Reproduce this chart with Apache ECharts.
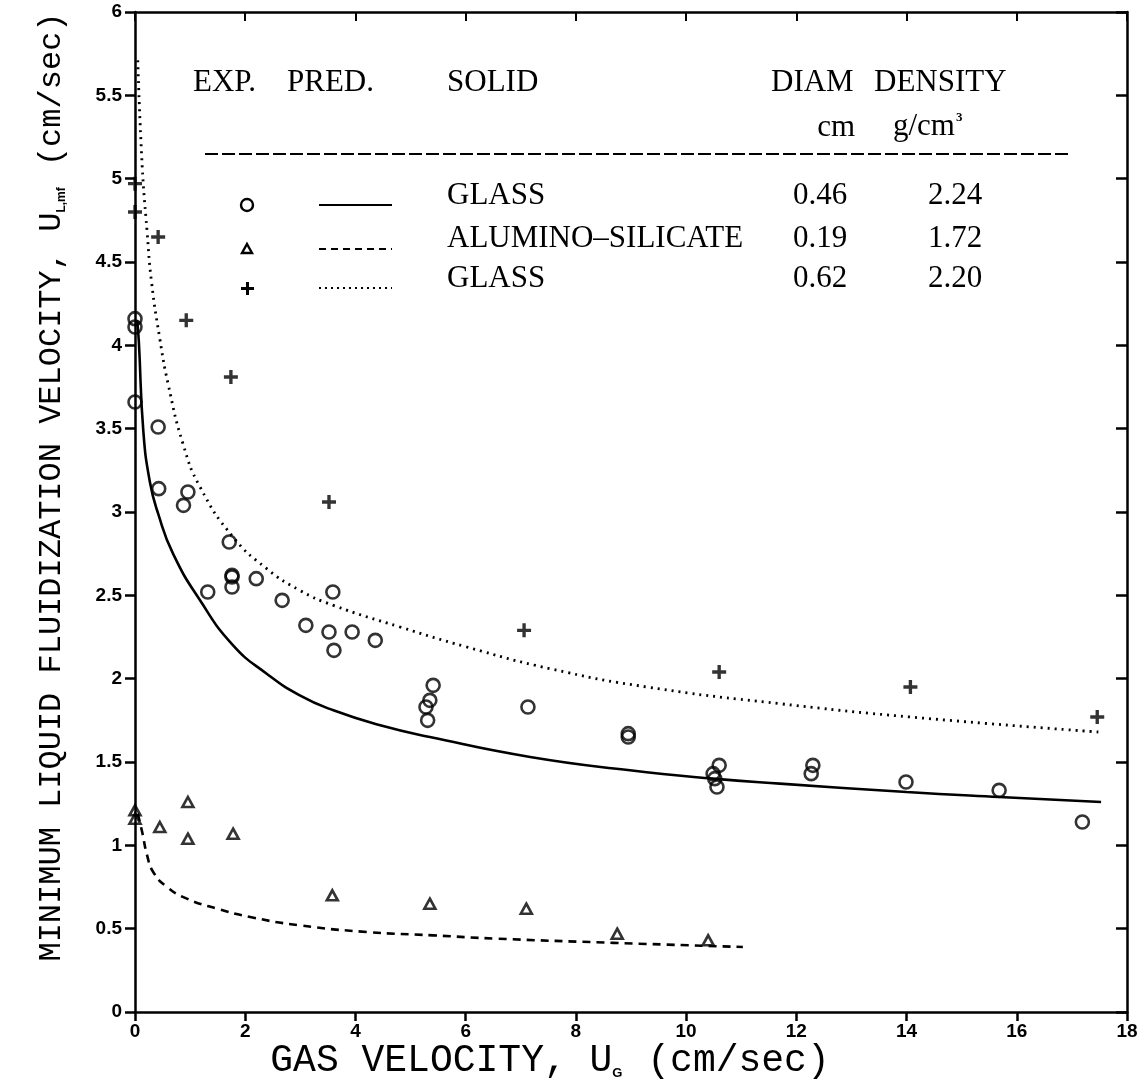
<!DOCTYPE html>
<html>
<head>
<meta charset="utf-8">
<title>Minimum liquid fluidization velocity</title>
<script src="https://cdn.jsdelivr.net/npm/echarts@6/dist/echarts.min.js"></script>
<style>
  html, body { margin: 0; padding: 0; background: #fff; }
  #chart { width: 1142px; height: 1087px; }
</style>
</head>
<body>
<div id="chart"></div>
<script>
(function() {
  var myChart = echarts.init(document.getElementById("chart"));

  // x axis ticks
  var xTicks = [0, 2, 4, 6, 8, 10, 12, 14, 16, 18];

  // experimental points, glass 0.46 cm (circles)
  var glassAX = [0, 0, 0, 0.42, 0.43, 0.96, 0.88, 1.71, 1.76, 1.76, 1.76, 1.32, 2.2, 2.67, 3.1, 3.52, 3.59, 3.61, 3.94, 4.36,
    5.41, 5.35, 5.28, 5.31, 7.13, 8.95, 8.95, 10.6, 10.49, 10.52, 10.56, 12.3, 12.27, 13.99, 15.68, 17.19];
  var glassAY = [4.16, 4.11, 3.66, 3.51, 3.14, 3.12, 3.04, 2.82, 2.62, 2.61, 2.55, 2.52, 2.6, 2.47, 2.32, 2.28, 2.52, 2.17, 2.28, 2.23,
    1.96, 1.87, 1.83, 1.75, 1.83, 1.67, 1.65, 1.48, 1.43, 1.4, 1.35, 1.48, 1.43, 1.38, 1.33, 1.14];

  // experimental points, alumino-silicate 0.19 cm (triangles)
  var aluX = [0, 0, 0.45, 0.96, 0.96, 1.78, 3.58, 5.35, 7.1, 8.75, 10.4];
  var aluY = [1.21, 1.16, 1.11, 1.26, 1.04, 1.07, 0.7, 0.65, 0.62, 0.47, 0.43];

  // experimental points, glass 0.62 cm (crosses)
  var glassBX = [0, 0, 0.42, 0.93, 1.74, 3.52, 7.06, 10.6, 14.07, 17.46];
  var glassBY = [4.97, 4.8, 4.65, 4.15, 3.81, 3.06, 2.29, 2.04, 1.95, 1.77];

  // predicted curves
  var predAX = [0.04, 0.07, 0.15, 0.27, 0.42, 0.69, 1.18, 1.78, 2.39, 2.99, 3.6, 4.45, 5.35, 7.17, 8.98, 10.49, 11.7, 14.0, 15.68, 17.53];
  var predAY = [4.15, 4.02, 3.49, 3.18, 2.99, 2.75, 2.47, 2.2, 2.03, 1.9, 1.81, 1.72, 1.65, 1.53, 1.45, 1.4, 1.37, 1.32, 1.29, 1.26];

  var predAluX = [0.05, 0.13, 0.22, 0.33, 0.58, 0.94, 1.49, 2.09, 2.99, 4.21, 5.41, 6.57, 8.68, 11.03];
  var predAluY = [1.19, 1.08, 0.94, 0.84, 0.75, 0.68, 0.62, 0.57, 0.52, 0.48, 0.46, 0.44, 0.415, 0.39];

  var predBX = [0.05, 0.13, 0.22, 0.3, 0.45, 0.6, 0.87, 1.18, 1.78, 2.39, 2.99, 3.6, 4.81, 6.02, 7.53, 9.29, 11.7, 14.07, 17.48];
  var predBY = [5.71, 5.08, 4.68, 4.38, 4.04, 3.77, 3.41, 3.15, 2.85, 2.66, 2.53, 2.44, 2.31, 2.19, 2.06, 1.95, 1.85, 1.77, 1.68];

  // legend table
  var tableHead = ["EXP.", "PRED.", "SOLID", "DIAM", "DENSITY"];
  var solids = ["GLASS", "ALUMINO\u2013SILICATE", "GLASS"];
  var diams = ["0.46", "0.19", "0.62"];
  var densities = ["2.24", "1.72", "2.20"];

  function pairs(xs, ys) {
    var out = [];
    for (var i = 0; i < xs.length; i++) out.push([xs[i], ys[i]]);
    return out;
  }

  var serif = "Liberation Serif";
  var mono = "Liberation Mono";
  var tableFont = "31px '" + serif + "'";
  var crossPath = "path://M3.8,0H6.2V3.8H10V6.2H6.2V10H3.8V6.2H0V3.8H3.8Z";

  var axisLine = { show: true, onZero: false, lineStyle: { color: "#000", width: 2.5 } };

  var graphics = [];
  var headX = [193, 287, 447, 771, 874];
  tableHead.forEach(function(t, i) {
    graphics.push({ type: "text", x: headX[i], y: 83,
      style: { text: t, font: tableFont, fill: "#000", verticalAlign: "middle" } });
  });
  graphics.push({ type: "text", x: 855, y: 128,
    style: { text: "cm", font: tableFont, fill: "#000", align: "right", verticalAlign: "middle" } });
  graphics.push({ type: "text", x: 893, y: 127,
    style: { text: "g/cm{sup|3}", font: tableFont, fill: "#000", verticalAlign: "middle",
      rich: { sup: { font: "bold 13px '" + serif + "'", verticalAlign: "top", padding: [0, 0, 14, 1] } } } });
  graphics.push({ type: "line", shape: { x1: 205, y1: 154, x2: 1072, y2: 154 },
    style: { stroke: "#000", lineWidth: 2, lineDash: [13, 4] } });

  var rowY = [196, 239, 279];
  var glyphY = [205, 249, 288];
  var lineDashes = [null, [7, 5], [2, 4]];
  for (var r = 0; r < 3; r++) {
    graphics.push({ type: "text", x: 447, y: rowY[r], style: { text: solids[r], font: tableFont, fill: "#000", verticalAlign: "middle" } });
    graphics.push({ type: "text", x: 793, y: rowY[r], style: { text: diams[r], font: tableFont, fill: "#000", verticalAlign: "middle" } });
    graphics.push({ type: "text", x: 928, y: rowY[r], style: { text: densities[r], font: tableFont, fill: "#000", verticalAlign: "middle" } });
    graphics.push({ type: "line", shape: { x1: 319, y1: glyphY[r], x2: 392, y2: glyphY[r] },
      style: { stroke: "#000", lineWidth: 2.2, lineDash: lineDashes[r] } });
  }
  graphics.push({ type: "circle", shape: { cx: 247, cy: 205, r: 6 }, style: { fill: "none", stroke: "#000", lineWidth: 2.4 } });
  graphics.push({ type: "polygon", shape: { points: [[247, 244], [252, 253], [242, 253]] }, style: { fill: "none", stroke: "#000", lineWidth: 2.4 } });
  graphics.push({ type: "rect", shape: { x: 241, y: 287, width: 13, height: 3 }, style: { fill: "#000" } });
  graphics.push({ type: "rect", shape: { x: 246, y: 282, width: 3, height: 13 }, style: { fill: "#000" } });

  // axis titles
  graphics.push({ type: "text", x: 52, y: 487, rotation: Math.PI / 2,
    style: { text: "MINIMUM LIQUID FLUIDIZATION VELOCITY, U{s|L,mf} (cm/sec)", font: "32px '" + mono + "'",
      fill: "#000", align: "center", verticalAlign: "middle",
      rich: { s: { font: "bold 12px 'Liberation Sans'", verticalAlign: "bottom", padding: [12, 2, 0, 0] } } } });
  graphics.push({ type: "text", x: 550, y: 1061,
    style: { text: "GAS VELOCITY, U{s|G} (cm/sec)", font: "38px '" + mono + "'",
      fill: "#000", align: "center", verticalAlign: "middle",
      rich: { s: { font: "bold 13px 'Liberation Sans'", verticalAlign: "bottom", padding: [14, 2, 0, 0] } } } });

  var option = {
    backgroundColor: "#fff",
    animation: false,
    grid: { left: 135, right: 15, top: 12, bottom: 75 },
    xAxis: [
      {
        type: "value", min: xTicks[0], max: xTicks[xTicks.length - 1], interval: 2,
        axisLine: axisLine,
        axisTick: { show: true, inside: false, length: 9, lineStyle: { color: "#000", width: 2.5 } },
        axisLabel: { color: "#000", fontFamily: "Liberation Sans", fontWeight: "bold", fontSize: 19, margin: 10 },
        splitLine: { show: false }
      },
      {
        type: "value", position: "top", min: 0, max: 18, interval: 2,
        axisLine: axisLine,
        axisTick: { show: true, inside: true, length: 9, lineStyle: { color: "#000", width: 2 } },
        axisLabel: { show: false },
        splitLine: { show: false }
      }
    ],
    yAxis: [
      {
        type: "value", min: 0, max: 6, interval: 0.5,
        axisLine: axisLine,
        axisTick: { show: true, inside: false, length: 10, lineStyle: { color: "#000", width: 2.5 } },
        axisLabel: { color: "#000", fontFamily: "Liberation Sans", fontWeight: "bold", fontSize: 19, margin: 13 },
        splitLine: { show: false }
      },
      {
        type: "value", position: "right", min: 0, max: 6, interval: 0.5,
        axisLine: axisLine,
        axisTick: { show: true, inside: true, length: 11, lineStyle: { color: "#000", width: 2.5 } },
        axisLabel: { show: false },
        splitLine: { show: false }
      }
    ],
    graphic: graphics,
    series: [
      {
        name: "PRED. GLASS 0.46", type: "line", data: pairs(predAX, predAY),
        showSymbol: false, smooth: 0.5,
        lineStyle: { color: "#000", width: 2.6, type: "solid" }, z: 2
      },
      {
        name: "PRED. ALUMINO-SILICATE 0.19", type: "line", data: pairs(predAluX, predAluY),
        showSymbol: false, smooth: 0.5,
        lineStyle: { color: "#000", width: 2.6, type: [8, 6] }, z: 2
      },
      {
        name: "PRED. GLASS 0.62", type: "line", data: pairs(predBX, predBY),
        showSymbol: false, smooth: 0.5,
        lineStyle: { color: "#000", width: 2.8, type: [2, 5] }, z: 2
      },
      {
        name: "EXP. GLASS 0.46", type: "scatter", data: pairs(glassAX, glassAY),
        symbol: "circle", symbolSize: 13,
        itemStyle: { color: "rgba(0,0,0,0)", borderColor: "#000", borderWidth: 2.6 }, z: 3
      },
      {
        name: "EXP. ALUMINO-SILICATE 0.19", type: "scatter", data: pairs(aluX, aluY),
        symbol: "triangle", symbolSize: [11, 10],
        itemStyle: { color: "rgba(0,0,0,0)", borderColor: "#000", borderWidth: 2.6 }, z: 3
      },
      {
        name: "EXP. GLASS 0.62", type: "scatter", data: pairs(glassBX, glassBY),
        symbol: crossPath, symbolSize: 14,
        itemStyle: { color: "#000" }, z: 3
      }
    ]
  };

  myChart.setOption(option);
  window.addEventListener("resize", function() {
    myChart.resize();
  });
})();
</script>
</body>
</html>
